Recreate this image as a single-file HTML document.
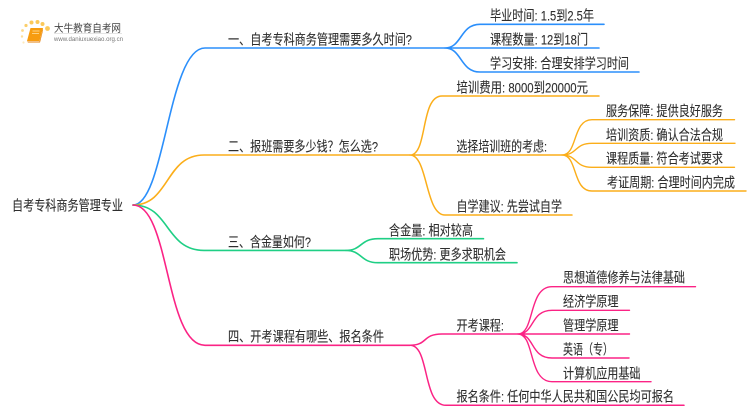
<!DOCTYPE html>
<html lang="zh"><head><meta charset="utf-8"><style>
html,body{margin:0;padding:0;background:#fff;width:750px;height:410px;overflow:hidden}
svg{display:block}
text{font-family:"Liberation Sans","Noto Sans CJK SC",sans-serif;font-size:14px;fill:#2e2e2e;stroke:#2e2e2e;stroke-width:.12px}
.a,.b,.c,.d{fill:none;stroke-linecap:round}
.a{stroke:#2b8ffb}.b{stroke:#fbae1a}.c{stroke:#1fcf85}.d{stroke:#fb2385}
</style></head><body>
<svg width="750" height="410" viewBox="0 0 750 410" xmlns="http://www.w3.org/2000/svg">
<!-- logo -->
<g fill="#fbc95a">
<circle cx="47.500" cy="28.500" r="2.400"/><circle cx="42.500" cy="24" r="2"/><circle cx="37.500" cy="22" r="2"/><circle cx="31.500" cy="22.500" r="2"/><circle cx="26" cy="25.500" r="1.600" opacity=".9"/><circle cx="22.500" cy="30.500" r="1.400" opacity=".7"/><circle cx="22" cy="36.500" r="1.200" opacity=".6"/><circle cx="23.500" cy="42.500" r="1.100" opacity=".4"/>
</g>
<path d="M30.500 28h12.500l-3.500 13h-12.500z" fill="#f79c0f"/><path d="M27 41.500h12.500l3.500-13v2l-3 12h-12z" fill="#e57f0a"/><path d="M32.500 31h7M32 33.500h7" stroke="#ffe3a6" stroke-width=".8"/>
<text x="54" y="31.500" textLength="67" lengthAdjust="spacingAndGlyphs" style="font-size:10.500px;fill:#444;stroke:none">大牛教育自考网</text>
<path d="M54 33.500h68" stroke="#ccc" stroke-width=".6"/>
<text x="54" y="41" textLength="69" lengthAdjust="spacingAndGlyphs" style="font-size:6px;fill:#777;stroke:none">www.daniuxuexiao.org.cn</text>
<!-- blue -->
<g class="a">
<path stroke-width="1.600" d="M133 205C165 205 168 48 205 48H445"/>
<path stroke-width="1.600" d="M445 48C462 48 460 24.300 480 24.300H604M445 48H599M445 48C462 48 460 72 480 72H639"/>
</g>
<!-- orange -->
<g class="b">
<path stroke-width="1.600" d="M133 205C170 205 165 155 204 155H410"/>
<path stroke-width="1.500" d="M410 155C428 155 420 96 442 96H599M410 155H562M410 155C428 155 425 215 445 215H572"/>
<path stroke-width="1.400" d="M562 155C578 155 572 119.700 592 119.700H734.500M562 155C578 155 574 143.300 592 143.300H735M562 155C578 155 574 167.300 592 167.300H734.500M562 155C578 155 572 191 592 191H746"/>
</g>
<!-- green -->
<g class="c">
<path stroke-width="1.600" d="M133 205C170 205 165 250.400 204 250.400H346"/>
<path stroke-width="1.600" d="M346 250.400C362 250.400 360 238.700 378 238.700H483.500M346 250.400C362 250.400 360 262.700 378 262.700H517"/>
</g>
<!-- pink -->
<g class="d">
<path stroke-width="1.600" d="M133 205C170 205 165 345.300 205 345.300H410"/>
<path stroke-width="1.500" d="M410 345.300C428 345.300 422 334 442 334H518M410 345.300C430 345.300 422 405.300 446 405.300H684"/>
<path stroke-width="1.400" d="M518 334C535 334 528 286.700 552 286.700H695.500M518 334C535 334 530 310.300 552 310.300H629.500M518 334H629.500M518 334C535 334 530 358 552 358H629M518 334C535 334 528 381.700 552 381.700H651"/>
</g>
<!-- labels -->
<text x="12" y="210.500" textLength="111" lengthAdjust="spacingAndGlyphs">自考专科商务管理专业</text>
<text x="228" y="44.500" textLength="184" lengthAdjust="spacingAndGlyphs">一、自考专科商务管理需要多久时间?</text>
<text x="490" y="20.500" textLength="104" lengthAdjust="spacingAndGlyphs">毕业时间: 1.5到2.5年</text>
<text x="490" y="44.500" textLength="98" lengthAdjust="spacingAndGlyphs">课程数量: 12到18门</text>
<text x="490" y="68.500" textLength="139" lengthAdjust="spacingAndGlyphs">学习安排: 合理安排学习时间</text>
<text x="456.500" y="92.500" textLength="131.500" lengthAdjust="spacingAndGlyphs">培训费用: 8000到20000元</text>
<text x="228" y="151.500" textLength="150" lengthAdjust="spacingAndGlyphs">二、报班需要多少钱？怎么选?</text>
<text x="456.500" y="151.500" textLength="90.500" lengthAdjust="spacingAndGlyphs">选择培训班的考虑:</text>
<text x="456.500" y="211.500" textLength="105.500" lengthAdjust="spacingAndGlyphs">自学建议: 先尝试自学</text>
<text x="606" y="116" textLength="117" lengthAdjust="spacingAndGlyphs">服务保障: 提供良好服务</text>
<text x="606" y="140" textLength="117" lengthAdjust="spacingAndGlyphs">培训资质: 确认合法合规</text>
<text x="606" y="163.500" textLength="117" lengthAdjust="spacingAndGlyphs">课程质量: 符合考试要求</text>
<text x="607" y="187.500" textLength="128" lengthAdjust="spacingAndGlyphs">考证周期: 合理时间内完成</text>
<text x="228" y="247" textLength="83" lengthAdjust="spacingAndGlyphs">三、含金量如何?</text>
<text x="389" y="235.500" textLength="84" lengthAdjust="spacingAndGlyphs">含金量: 相对较高</text>
<text x="389" y="259.500" textLength="117" lengthAdjust="spacingAndGlyphs">职场优势: 更多求职机会</text>
<text x="228" y="341.500" textLength="156" lengthAdjust="spacingAndGlyphs">四、开考课程有哪些、报名条件</text>
<text x="456.500" y="330.500" textLength="47.500" lengthAdjust="spacingAndGlyphs">开考课程:</text>
<text x="456.500" y="401.500" textLength="217.500" lengthAdjust="spacingAndGlyphs">报名条件: 任何中华人民共和国公民均可报名</text>
<text x="563" y="282.500" textLength="122" lengthAdjust="spacingAndGlyphs">思想道德修养与法律基础</text>
<text x="563" y="306.500" textLength="55.500" lengthAdjust="spacingAndGlyphs">经济学原理</text>
<text x="563" y="330.500" textLength="55.500" lengthAdjust="spacingAndGlyphs">管理学原理</text>
<text x="563" y="354.500" textLength="50" lengthAdjust="spacingAndGlyphs">英语（专）</text>
<text x="563" y="378.500" textLength="77.500" lengthAdjust="spacingAndGlyphs">计算机应用基础</text>
</svg>
</body></html>
